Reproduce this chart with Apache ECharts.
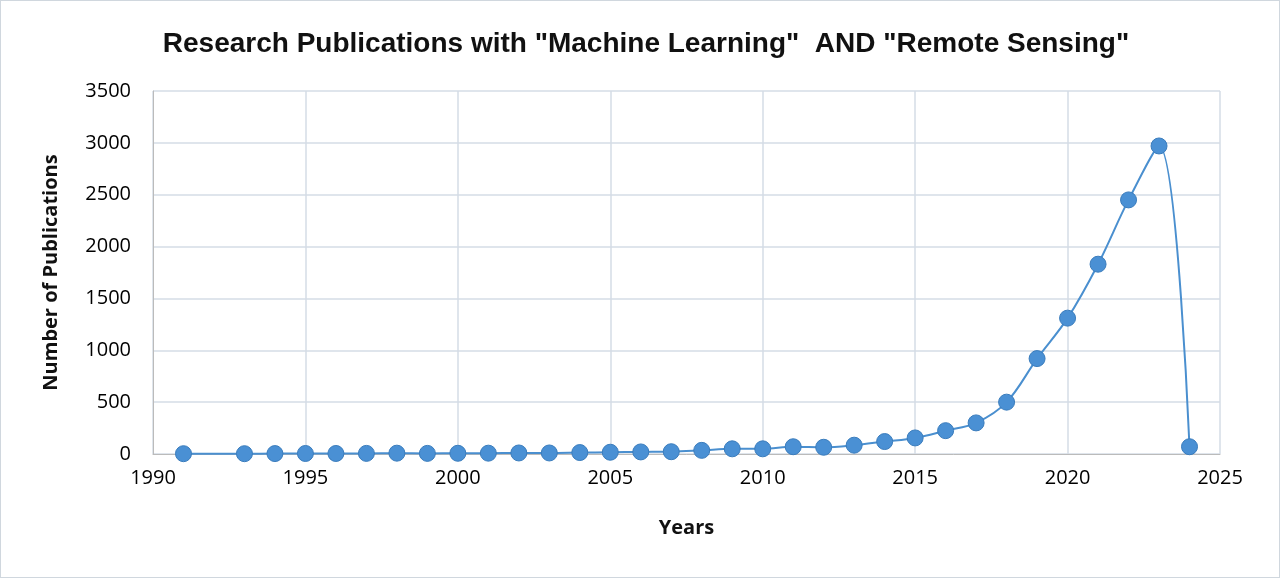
<!DOCTYPE html><html><head><meta charset="utf-8"><script src="https://cdn.jsdelivr.net/npm/echarts@6/dist/echarts.min.js"></script>
<style>body{margin:0}#c{width:1278px;height:576px;border:1px solid #d0d7de}</style></head><body><div id="c"></div><script>
const years=[1991,1993,1994,1995,1996,1997,1998,1999,2000,2001,2002,2003,2004,2005,2006,2007,2008,2009,2010,2011,2012,2013,2014,2015,2016,2017,2018,2019,2020,2021,2022,2023,2024];
const pubs=[3,3,4,5,5,6,8,6,7,8,10,10,14,17,20,22,35,50,50,70,65,85,120,155,225,300,500,920,1310,1830,2450,2970,70];
const c=echarts.init(document.getElementById('c'));
const ax={fontFamily:'Open Sans',fontSize:20,color:'#000',formatter:v=>String(v)};
c.setOption({
title:{text:'Research Publications with "Machine Learning"  AND "Remote Sensing"',left:640,top:24,textAlign:'center',textStyle:{fontFamily:'Liberation Sans',fontWeight:'bold',fontSize:28,color:'#111'}},
grid:{left:152,right:59,top:90,bottom:123},
xAxis:{type:'value',min:1990,max:2025,interval:5,name:'Years',nameLocation:'middle',nameGap:64,nameTextStyle:{fontFamily:'Open Sans',fontWeight:'bold',fontSize:20,color:'#111'},
axisLabel:{...ax,margin:14},axisLine:{lineStyle:{color:'#bbb'}},axisTick:{show:false},splitLine:{show:true,lineStyle:{color:'#d5dde6',width:1.5}}},
yAxis:{type:'value',min:0,max:3500,interval:500,name:'Number of Publications',nameLocation:'middle',nameGap:92,nameTextStyle:{fontFamily:'Open Sans',fontWeight:'bold',fontSize:20,color:'#111'},
axisLabel:{...ax,margin:22},axisLine:{show:true,lineStyle:{color:'#bbb'}},axisTick:{show:false},splitLine:{lineStyle:{color:'#d5dde6',width:1.5}}},
series:[{type:'line',smooth:0.35,data:years.map((y,i)=>[y,pubs[i]]),symbol:'circle',symbolSize:16,
lineStyle:{color:'#4a8fcf',width:2},itemStyle:{color:'#4a90d4',borderColor:'#3a7cbc',borderWidth:1}}]
});
</script></body></html>
